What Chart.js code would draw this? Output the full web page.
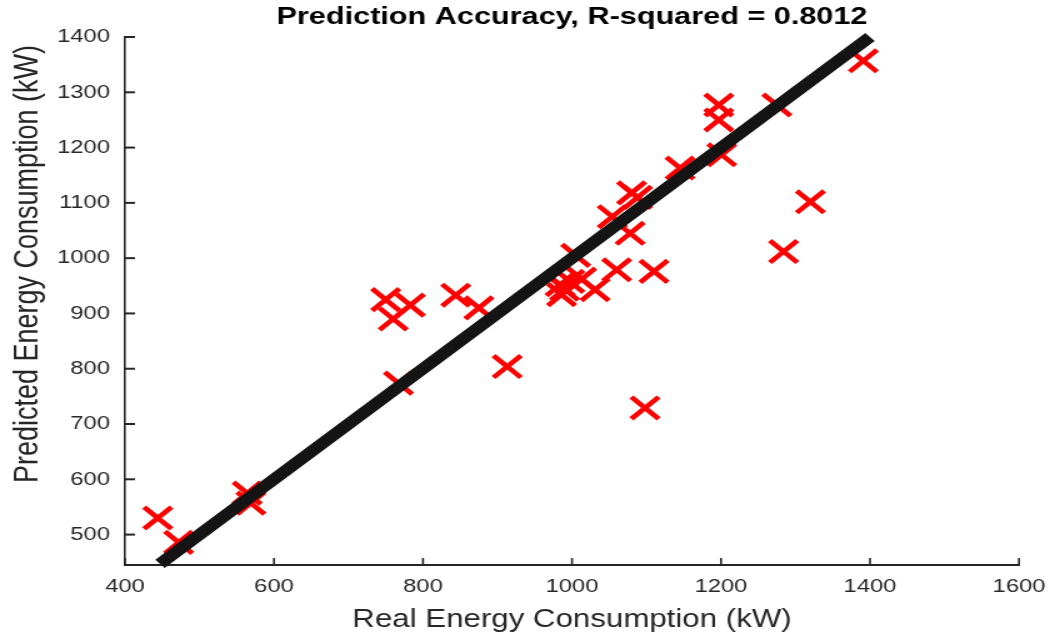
<!DOCTYPE html>
<html>
<head>
    <title>Prediction Accuracy</title>
    <script src="https://cdn.jsdelivr.net/npm/chart.js"></script>
    <style>
        body { margin: 0; background: #fff; }
    </style>
</head>
<body>
    <!-- drawn narrower and stretched sideways, like the original figure -->
    <canvas id="myChart" width="840" height="633" style="display:block;width:1050px;height:633px;"></canvas>
    <script>
        // Real vs predicted consumption (kW)
        const realValues = [444, 472, 564, 569, 750, 760, 783, 767, 844, 875, 913,
            984, 990, 986, 997, 1005, 1013, 1031, 1060, 1110, 1054, 1078, 1080, 1088,
            1098, 1145, 1197, 1197, 1201, 1275, 1284, 1320, 1391];
        const predictedValues = [530, 486, 575, 557, 925, 890, 915, 774, 933, 910, 804,
            952, 944, 934, 958, 1005, 962, 943, 979, 976, 1075, 1045, 1118, 1110,
            729, 1163, 1277, 1250, 1187, 1277, 1012, 1102, 1357];

        // ideal y = x line
        const fitLineX = [447, 1400];
        const fitLineY = [447, 1400];

        const xTicks = [400, 600, 800, 1000, 1200, 1400, 1600];
        const yTicks = [500, 600, 700, 800, 900, 1000, 1100, 1200, 1300, 1400];

        const yLabel = 'Predicted Energy Consumption (kW)';

        const axisColor = '#262626';
        const fontFamily = '"Liberation Sans", Arial, Helvetica, sans-serif';

        // MATLAB style tick marks pointing into the plot, plus the y label
        // (which sits a little above the middle of the axis in the original)
        const axesExtras = {
            id: 'axesExtras',
            afterDraw(chart) {
                const ctx = chart.ctx;
                const area = chart.chartArea;
                const xs = chart.scales.x;
                const ys = chart.scales.y;
                ctx.save();
                ctx.strokeStyle = axisColor;
                ctx.lineWidth = 1.6;
                xTicks.forEach(v => {
                    const px = xs.getPixelForValue(v);
                    ctx.beginPath();
                    ctx.moveTo(px, area.bottom);
                    ctx.lineTo(px, area.bottom - 7);
                    ctx.stroke();
                });
                ctx.lineWidth = 2;
                yTicks.forEach(v => {
                    const py = ys.getPixelForValue(v);
                    ctx.beginPath();
                    ctx.moveTo(area.left, py);
                    ctx.lineTo(area.left + 8, py);
                    ctx.stroke();
                });

                ctx.translate(23, area.top + (area.bottom - area.top) * 0.43);
                ctx.rotate(-Math.PI / 2);
                ctx.fillStyle = axisColor;
                ctx.font = '27px ' + fontFamily;
                ctx.textAlign = 'center';
                ctx.textBaseline = 'middle';
                ctx.fillText(yLabel, 0, 0);
                ctx.restore();
            }
        };

        const ctx = document.getElementById('myChart').getContext('2d');
        const myChart = new Chart(ctx, {
            type: 'scatter',
            data: {
                datasets: [
                    {
                        label: 'Ideal',
                        data: fitLineX.map((x, i) => ({ x: x, y: fitLineY[i] })),
                        showLine: true,
                        borderColor: '#141414',
                        borderWidth: 11,
                        borderCapStyle: 'butt',
                        pointRadius: 0,
                        clip: false,
                        order: 0,
                    },
                    {
                        label: 'Predictions',
                        data: realValues.map((x, i) => ({ x: x, y: predictedValues[i] })),
                        pointStyle: 'crossRot',
                        pointRadius: 15.5,
                        pointBorderWidth: 4.5,
                        borderColor: '#ff0000',
                        backgroundColor: '#ff0000',
                        clip: false,
                        order: 1,
                    },
                ],
            },
            options: {
                responsive: false,
                animation: false,
                layout: {
                    padding: { left: 0, right: 24.8, top: 0, bottom: 0 },
                },
                plugins: {
                    legend: { display: false },
                    tooltip: { enabled: false },
                    title: {
                        display: true,
                        fullSize: false,
                        text: 'Prediction Accuracy, R-squared = 0.8012',
                        color: '#000',
                        font: { family: fontFamily, size: 24.5, weight: 'bold', lineHeight: 1.2 },
                        padding: { top: 2.5, bottom: 5.1 },
                    },
                },
                scales: {
                    x: {
                        type: 'linear',
                        min: 400,
                        max: 1600,
                        afterBuildTicks: scale => { scale.ticks = xTicks.map(v => ({ value: v })); },
                        afterFit: scale => {
                            scale.height = 68;
                            scale.paddingLeft = 0;
                            scale.paddingRight = 0;
                        },
                        grid: { display: false, drawTicks: false },
                        border: { display: true, color: axisColor, width: 2 },
                        ticks: {
                            color: axisColor,
                            font: { family: fontFamily, size: 19 },
                            padding: 10,
                            maxRotation: 0,
                            callback: v => String(v),
                        },
                        title: {
                            display: true,
                            text: 'Real Energy Consumption (kW)',
                            color: axisColor,
                            font: { family: fontFamily, size: 25, lineHeight: 1 },
                            padding: { top: 0, bottom: 0.5 },
                        },
                    },
                    y: {
                        type: 'linear',
                        min: 445,
                        max: 1400,
                        afterBuildTicks: scale => { scale.ticks = yTicks.map(v => ({ value: v })); },
                        afterFit: scale => { scale.width = 100; },
                        grid: { display: false, drawTicks: false },
                        border: { display: true, color: axisColor, width: 1.6 },
                        ticks: {
                            color: axisColor,
                            font: { family: fontFamily, size: 19 },
                            padding: 12,
                            callback: v => String(v),
                        },
                        title: { display: false },
                    },
                },
            },
            plugins: [axesExtras],
        });
    </script>
</body>
</html>
